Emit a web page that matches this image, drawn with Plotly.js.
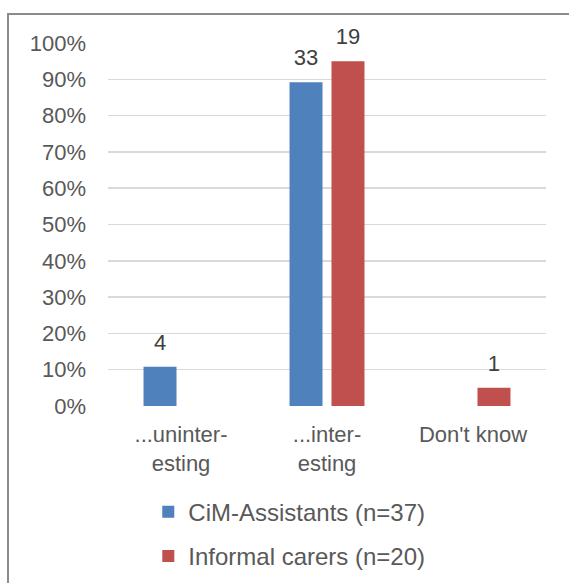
<!DOCTYPE html>
<html>
<head>
<meta charset="utf-8">
<script src="https://cdn.plot.ly/plotly-3.0.1.min.js"></script>
<style>
  html, body { margin: 0; padding: 0; width: 569px; height: 583px; overflow: hidden; background: #fff; }
  #chart { position: absolute; left: 0; top: 0; width: 569px; height: 583px; }
  #frame { position: absolute; left: 7px; top: 13px; width: 620px; height: 640px; border: 2px solid #8c8c8c; box-sizing: border-box; pointer-events: none; }
</style>
</head>
<body>
<div id="chart"></div>
<div id="frame"></div>
<script>
const categories = ["...uninter-<br>esting", "...inter-<br>esting", "Don't know"];
const seriesNames = ["CiM-Assistants (n=37)", "Informal carers (n=20)"];
const cimShare = [0.108, 0.892, 0];
const carersShare = [0, 0.95, 0.05];
const cimCounts = ["4", "33", ""];
const carersCounts = ["", "19", "1"];
const yTickVals = [0, 0.1, 0.2, 0.3, 0.4, 0.5, 0.6, 0.7, 0.8, 0.9, 1.0];
const yTickText = ["0%", "10%", "20%", "30%", "40%", "50%", "60%", "70%", "80%", "90%", "100%"];

const font = "Liberation Sans, Arial, sans-serif";
const labelFont = { family: font, size: 22, color: "#404040" };

const traces = [
  {
    type: "bar", name: seriesNames[0], x: categories, y: cimShare,
    marker: { color: "#4F81BD" }, legendgroup: "a", hoverinfo: "skip"
  },
  {
    type: "bar", name: seriesNames[1], x: categories, y: carersShare,
    marker: { color: "#C0504D" }, legendgroup: "b", hoverinfo: "skip"
  },
  {
    type: "scatter", mode: "text+markers", x: categories, y: cimShare,
    text: cimCounts, textposition: "top center", textfont: labelFont,
    marker: { size: 17, opacity: 0 }, cliponaxis: false,
    showlegend: false, hoverinfo: "skip"
  },
  {
    type: "scatter", mode: "text+markers", x: categories, y: carersShare,
    text: carersCounts, textposition: "top center", textfont: labelFont,
    marker: { size: 17, opacity: 0 }, cliponaxis: false,
    showlegend: false, hoverinfo: "skip"
  }
];

const layout = {
  width: 569, height: 583,
  margin: { l: 108, r: 23, t: 43, b: 177 },
  paper_bgcolor: "rgba(0,0,0,0)", plot_bgcolor: "rgba(0,0,0,0)",
  font: { family: font, size: 22, color: "#595959" },
  barmode: "group", bargap: 0.425, bargroupgap: 0.214,
  scattermode: "group", scattergap: 0.425,
  showlegend: true,
  legend: {
    x: 0.092, xanchor: "left", yref: "container", y: 0.16, yanchor: "top",
    orientation: "v", traceorder: "grouped", tracegroupgap: 10,
    font: { family: font, size: 24, color: "#595959" }
  },
  xaxis: {
    type: "category", showgrid: false, showline: false, zeroline: false,
    ticks: "", ticklabelstandoff: 13,
    tickfont: { family: font, size: 22, color: "#595959" }
  },
  yaxis: {
    range: [0, 1], tickvals: yTickVals, ticktext: yTickText,
    showgrid: true, gridcolor: "#d9d9d9", gridwidth: 1.5,
    zeroline: false, showline: false, ticks: "", ticklabelstandoff: 21,
    tickfont: { family: font, size: 22, color: "#595959" }
  }
};

Plotly.newPlot("chart", traces, layout, { displayModeBar: false, staticPlot: true });
</script>
</body>
</html>
